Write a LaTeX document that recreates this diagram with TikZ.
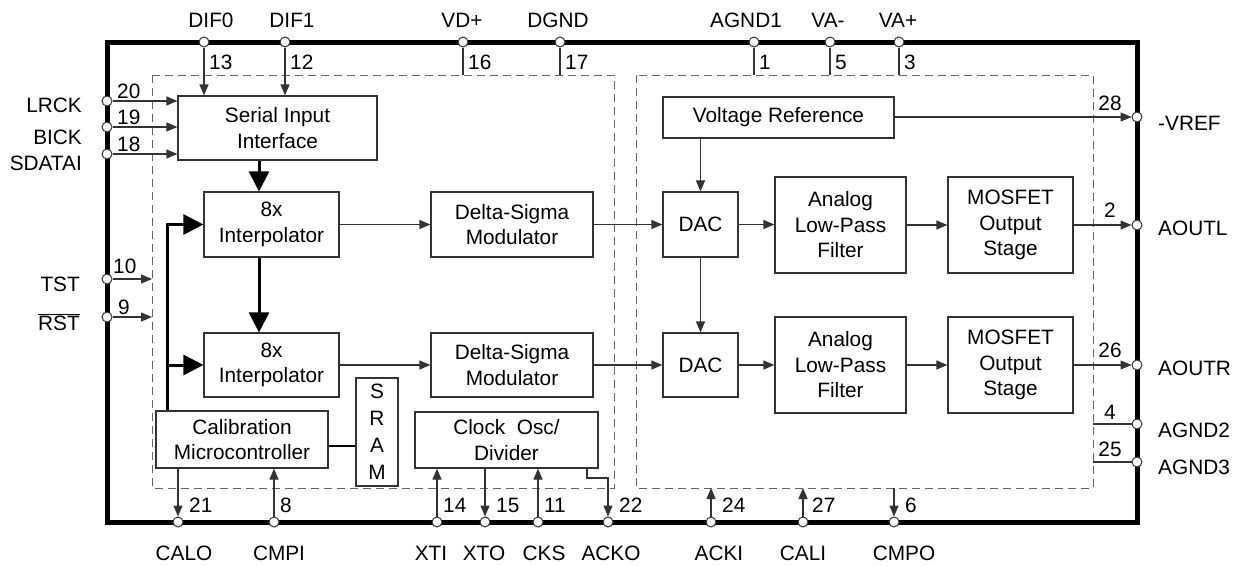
\documentclass[tikz,border=0pt]{standalone}
\usepackage{fontspec}
\setmainfont{Liberation Sans}
\usetikzlibrary{arrows.meta}
\newcommand{\fs}{\fontsize{20.8}{25.5}\selectfont}
\tikzset{
 blk/.style={draw=black!80, line width=1.2pt, inner sep=0pt, align=center, font=\fs},
 pin/.style={circle, draw=black!80, fill=white, line width=1pt, inner sep=0pt, minimum size=10pt},
 wire/.style={draw=black!80, line width=1.2pt},
 arr/.style={wire, -{Triangle[length=11pt,width=9pt]}},
 bus/.style={draw=black, line width=3pt, -{Triangle[length=20pt,width=20pt]}},
 dbox/.style={draw=black!60, line width=1pt, dash pattern=on 8pt off 5pt},
 lbl/.style={inner sep=0pt, font=\fs},
}
\begin{document}
\begin{tikzpicture}[x=1pt,y=-1pt]
\useasboundingbox (0,0) rectangle (1237,565);
% outer package
\draw[line width=5pt] (107,42) rectangle (1137,522);
% dashed regions
\coordinate (dl1) at (152,75); \coordinate (dl2) at (614,488);
\coordinate (dr1) at (636,75); \coordinate (dr2) at (1093,488);
\draw[dbox] (dl1) rectangle (dl2);
\draw[dbox] (dr1) rectangle (dr2);
% blocks
\node[blk, minimum width=199pt, minimum height=64pt] (sii) at (277.5,128) {Serial Input\\Interface};
\node[blk, minimum width=135pt, minimum height=65pt] (int1) at (271.5,224.5) {8x\\Interpolator};
\node[blk, minimum width=135pt, minimum height=64pt] (int2) at (271.5,365) {8x\\Interpolator};
\node[blk, minimum width=162pt, minimum height=65pt] (ds1) at (512,224.5) {Delta-Sigma\\Modulator};
\node[blk, minimum width=162pt, minimum height=64pt] (ds2) at (512,365) {Delta-Sigma\\Modulator};
\node[blk, minimum width=172pt, minimum height=57pt] (cal) at (242,439.5) {Calibration\\Microcontroller};
\node[blk, minimum width=42pt, minimum height=108pt, font=\fontsize{20.8}{27}\selectfont] (sram) at (377,432) {S\\R\\A\\M};
\node[blk, minimum width=183pt, minimum height=56pt] (clk) at (506.5,440) {Clock~~Osc/\\Divider};
\node[blk, minimum width=231pt, minimum height=41pt] (vr) at (778.5,117.5) {Voltage Reference};
\node[blk, minimum width=75pt, minimum height=65pt] (dac1) at (700.5,224.5) {DAC};
\node[blk, minimum width=75pt, minimum height=64pt] (dac2) at (700.5,365) {DAC};
\node[blk, minimum width=131pt, minimum height=96pt] (lpf1) at (840.5,225) {Analog\\Low-Pass\\Filter};
\node[blk, minimum width=131pt, minimum height=96pt] (lpf2) at (840.5,365) {Analog\\Low-Pass\\Filter};
\node[blk, minimum width=125pt, minimum height=96pt] (mos1) at (1010.5,225) {MOSFET\\Output\\Stage};
\node[blk, minimum width=125pt, minimum height=96pt] (mos2) at (1010.5,365) {MOSFET\\Output\\Stage};
% pins top
\foreach \n/\x in {13/204,12/285,16/463,17/560,1/754,5/830,3/899}{
  \node[pin] (p\n) at (\x,42) {};
  \node[lbl, anchor=west] at (\x+5,62) {\n};}
% pins left
\foreach \n/\y in {20/101,19/127,18/154,10/279,9/317}{\node[pin] (p\n) at (107,\y) {};}
\node[lbl, anchor=west] at (117,91) {20};
\node[lbl, anchor=west] at (117,117) {19};
\node[lbl, anchor=west] at (117,144) {18};
\node[lbl, anchor=west] at (113,266) {10};
\node[lbl, anchor=west] at (118,307) {9};
% pins right
\foreach \n/\y in {28/117,2/225,26/365,4/424,25/462}{\node[pin] (p\n) at (1137,\y) {};}
\node[lbl] at (1110,103) {28};
\node[lbl] at (1110,210) {2};
\node[lbl] at (1110,350) {26};
\node[lbl] at (1110,412) {4};
\node[lbl] at (1110,449) {25};
% pins bottom
\foreach \n/\x in {21/178,8/274,14/437,15/485,11/538,22/608,24/711,27/803,6/894}{
  \node[pin] (p\n) at (\x,522) {};}
\foreach \n/\x in {21/189,8/280,14/443,15/496,11/544,22/619,24/722,27/812,6/905}{
  \node[lbl, anchor=west] at (\x,505) {\n};}
% pin names
\foreach \t/\x in {DIF0/211,DIF1/292,VD+/462,DGND/558,AGND1/746,VA-/828,VA+/898}{
  \node[lbl] at (\x,20) {\t};}
\node[lbl, anchor=east] at (82,105) {LRCK};
\node[lbl, anchor=east] at (82,137) {BICK};
\node[lbl, anchor=east] at (82,163) {SDATAI};
\node[lbl, anchor=east] at (80,284) {TST};
\node[lbl, anchor=east] at (80,322) {$\overline{\mbox{RST}}$};
\foreach \t/\y in {-VREF/123,AOUTL/228,AOUTR/368,AGND2/430,AGND3/467}{
  \node[lbl, anchor=west] at (1158,\y) {\t};}
\foreach \t/\x in {CALO/184,CMPI/279,XTI/431,XTO/484,CKS/544,ACKO/611,ACKI/719,CALI/803,CMPO/904}{
  \node[lbl] at (\x,553) {\t};}
% top connections
\draw[arr] (p13) -- (p13 |- sii.north);
\draw[arr] (p12) -- (p12 |- sii.north);
\foreach \p in {p16,p17}{\draw[wire] (\p) -- (\p |- dl1);}
\foreach \p in {p1,p5,p3}{\draw[wire] (\p) -- (\p |- dr1);}
% left connections
\foreach \p in {p20,p19,p18}{\draw[arr] (\p) -- (\p -| sii.west);}
\foreach \p in {p10,p9}{\draw[arr] (\p) -- (\p -| dl1);}
% data path
\coordinate (c259) at (259,0);
\coordinate (fb) at (167,0);
\draw[bus] (sii.south -| c259) -- (int1.north -| c259);
\draw[bus] (int1.south -| c259) -- (int2.north -| c259);
\draw[bus] (cal.north -| fb) |- (int1.west);
\draw[bus] (fb |- int2.west) -- (int2.west);
\draw[draw=black, line width=2.2pt] (cal.east |- 0,446) -- (sram.west |- 0,446);
\draw[arr] (int1.east) -- (ds1.west);
\draw[arr] (int2.east) -- (ds2.west);
\draw[arr] (ds1.east) -- (dac1.west);
\draw[arr] (ds2.east) -- (dac2.west);
\draw[arr] (dac1.north |- vr.south) -- (dac1.north);
\draw[arr] (dac1.south) -- (dac2.north);
\draw[arr] (dac1.east) -- (lpf1.west |- dac1.east);
\draw[arr] (dac2.east) -- (lpf2.west |- dac2.east);
\draw[arr] (lpf1.east) -- (mos1.west);
\draw[arr] (lpf2.east) -- (mos2.west);
\draw[arr] (vr.east |- p28) -- (p28);
\draw[arr] (mos1.east) -- (p2);
\draw[arr] (mos2.east) -- (p26);
\draw[wire] (p4) -- (p4 -| dr2);
\draw[wire] (p25) -- (p25 -| dr2);
% bottom connections
\draw[arr] (cal.south -| p21) -- (p21);
\draw[arr] (p8) -- (p8 |- cal.south);
\draw[arr] (p14) -- (p14 |- clk.south);
\draw[arr] (clk.south -| p15) -- (p15);
\draw[arr] (p11) -- (p11 |- clk.south);
\coordinate (ackoK) at (587,478);
\draw[arr] (clk.south -| ackoK) -- (ackoK) -| (p22);
\draw[arr] (p24) -- (p24 |- dr2);
\draw[arr] (p27) -- (p27 |- dr2);
\draw[arr] (p6 |- dr2) -- (p6);
\end{tikzpicture}
\end{document}
